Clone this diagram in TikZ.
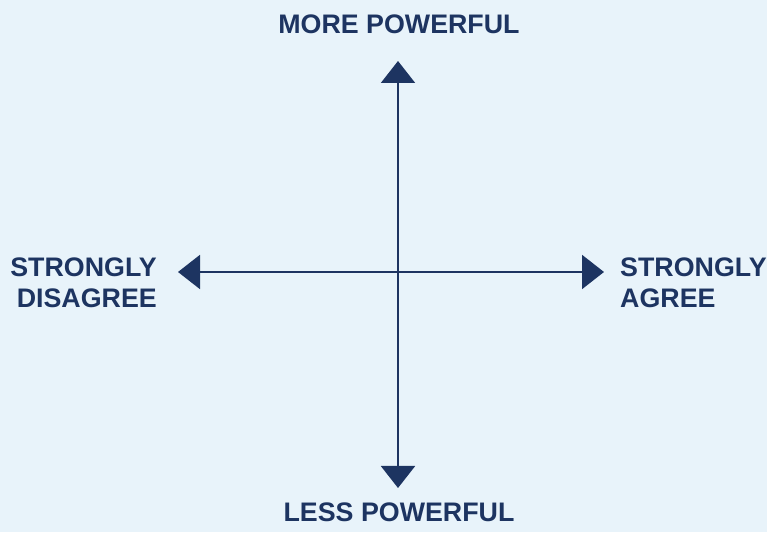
\documentclass[tikz,border=0pt]{standalone}
\usepackage{fontspec}
\setmainfont{Liberation Sans}
\usetikzlibrary{arrows.meta}
\definecolor{bg}{HTML}{E8F3FA}
\definecolor{navy}{HTML}{1D3461}
\tikzset{
  lbl/.style={inner sep=0pt, text=navy, font=\fontsize{26.8}{31}\selectfont\bfseries},
  axis/.style={draw=navy, line width=2pt, -{Triangle[width=34pt,length=22pt]}}
}
\begin{document}
\begin{tikzpicture}[x=1pt,y=1pt]
\fill[bg] (0,0) rectangle (767,532);
\useasboundingbox (0,0) rectangle (767,532);
\coordinate (c) at (398,260);
\coordinate (up) at (398,471);
\coordinate (down) at (398,44);
\coordinate (left) at (178,260);
\coordinate (right) at (604,260);
\draw[axis] (c) -- (up);
\draw[axis] (c) -- (down);
\draw[axis] (c) -- (left);
\draw[axis] (c) -- (right);
\node[lbl, anchor=base] (more) at (399,498) {MORE POWERFUL};
\node[lbl, anchor=base] (less) at (399,11) {LESS POWERFUL};
\node[lbl, anchor=base east] (sd1) at (157,255) {STRONGLY};
\node[lbl, anchor=base east] (sd2) at (157,224) {DISAGREE};
\node[lbl, anchor=base west] (sa1) at (620,255) {STRONGLY};
\node[lbl, anchor=base west] (sa2) at (620,224) {AGREE};
\end{tikzpicture}
\end{document}
